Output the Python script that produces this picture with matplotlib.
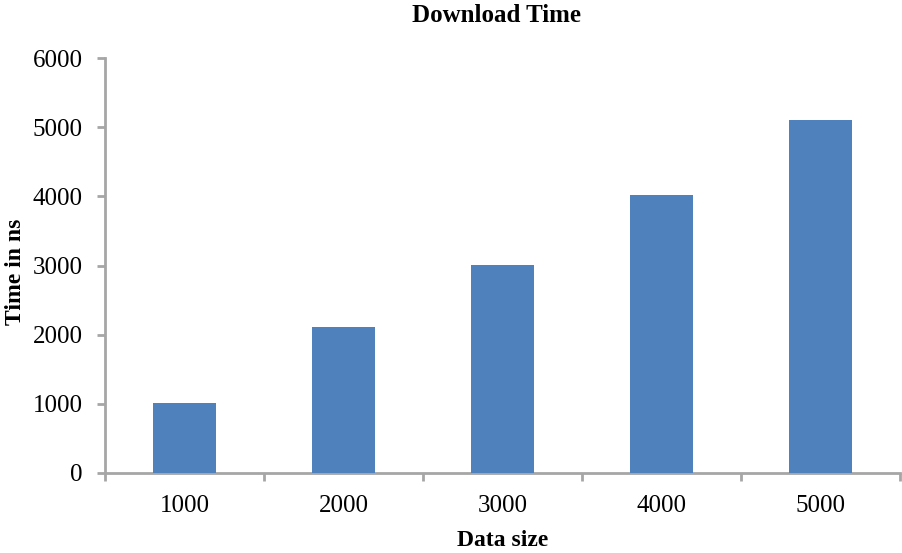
import numpy as np
import matplotlib.pyplot as plt

sizes = ['1000', '2000', '3000', '4000', '5000']
times = [1012, 2110, 3007, 4020, 5103]

plt.rcParams['font.family'] = ['Liberation Serif', 'DejaVu Serif']

W, H = 902, 553
fig = plt.figure(figsize=(W / 100, H / 100), dpi=100)
ax = fig.add_axes([0.1164, 0.1447, 0.8815, 0.7503])

x = np.arange(len(sizes))
ax.bar(x, times, width=0.4, color='#4F81BD', zorder=3)

ax.set_xlim(-0.5, len(sizes) - 0.5)
ax.set_ylim(0, 6000)
ax.set_yticks(range(0, 6001, 1000))
ax.set_xticks(x)
ax.set_xticklabels(sizes)
ax.set_xticks(np.arange(-0.5, len(sizes), 1.0), minor=True)

axis_col = '#A6A6A6'
for s in ['top', 'right']:
    ax.spines[s].set_visible(False)
for s in ['left', 'bottom']:
    ax.spines[s].set_color(axis_col)
    ax.spines[s].set_linewidth(2)

ax.tick_params(axis='x', which='major', length=0, labelsize=18, pad=16)
ax.tick_params(axis='x', which='minor', length=6, width=2, color=axis_col)
ax.tick_params(axis='y', length=6, width=2, color=axis_col, labelsize=18, pad=10)

# titles placed in pixel terms
fig.text(497 / W, 1 - 15 / H, 'Download Time', fontsize=18, fontweight='bold',
         ha='center', va='center')
fig.text(503 / W, 1 - 540 / H, 'Data size', fontsize=17, fontweight='bold',
         ha='center', va='center')
fig.text(16 / W, 1 - 272 / H, 'Time in ns', fontsize=17, fontweight='bold',
         ha='center', va='center', rotation=90)

fig.savefig('out.png', dpi=100)
